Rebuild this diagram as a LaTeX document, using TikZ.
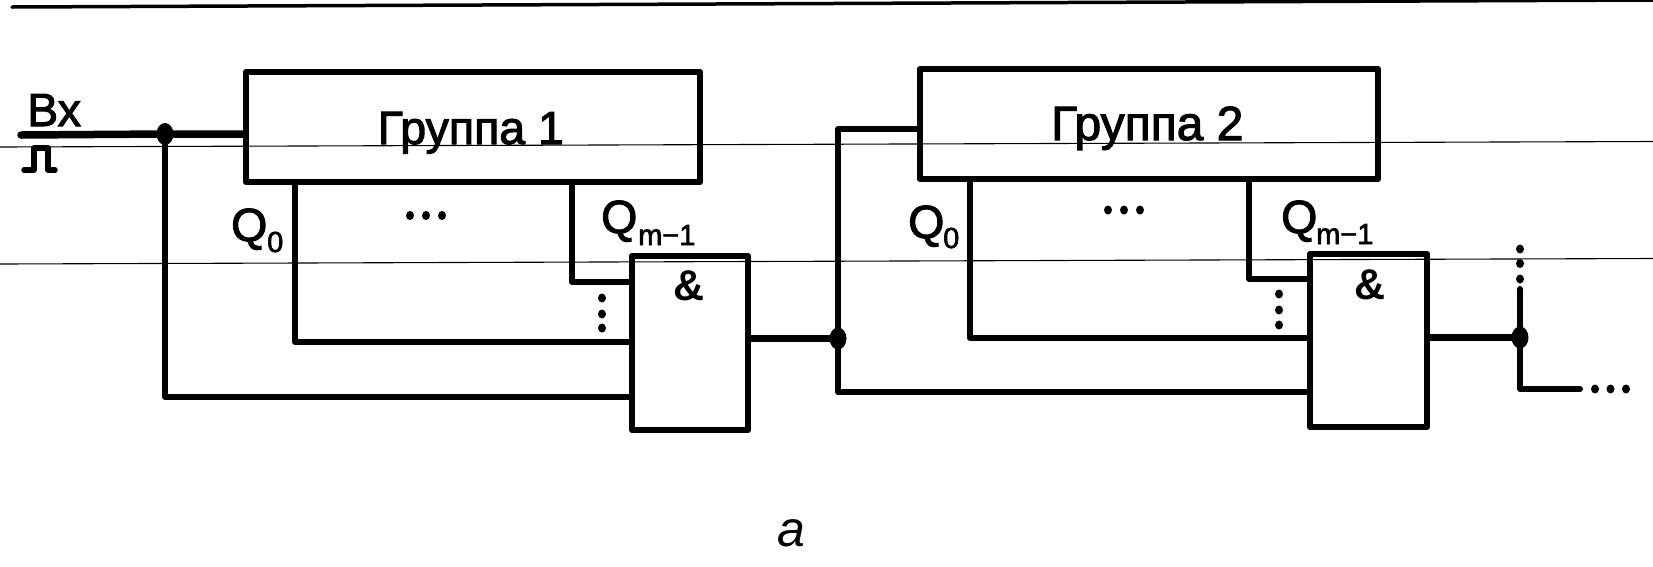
\documentclass[tikz,border=0pt]{standalone}
\usepackage{fontspec}
\setmainfont[FakeBold=2.2]{Liberation Sans}
\newfontfamily\ampf{Liberation Sans}
\tikzset{
  x=1pt,y=-1pt,
  wire/.style={line width=6pt,line join=round,line cap=round},
  fatw/.style={line width=7.5pt,line join=round,line cap=round},
  boxn/.style={draw,line width=6.5pt,rectangle,inner sep=0pt,line join=round},
  junc/.style={ellipse,fill=black,inner sep=0pt,minimum width=17pt,minimum height=22pt},
  vdot/.style={ellipse,fill=black,inner sep=0pt,minimum width=8pt,minimum height=9pt},
  thinl/.style={line width=1.1pt},
  txt/.style={inner sep=0pt,anchor=base west},
  tbig/.style={txt,font=\fontsize{46.5}{46.5}\selectfont},
  tsub/.style={txt,font=\fontsize{29}{29}\selectfont},
}
\usetikzlibrary{shapes.geometric}
\begin{document}
\begin{tikzpicture}
\useasboundingbox (0,0) rectangle (1653,566);
\fill[white] (0,0) rectangle (1653,566);
% boxes
\node[boxn,minimum width=454pt,minimum height=110pt] (g1) at (473,127) {};
\node[boxn,minimum width=458pt,minimum height=110pt] (g2) at (1149,124) {};
\node[boxn,minimum width=116pt,minimum height=174pt] (a1) at (690,343) {};
\node[boxn,minimum width=117pt,minimum height=173pt] (a2) at (1368.5,340.5) {};
% named points
\coordinate (inp) at (21,135);
\coordinate (bend1) at (165,397);
\coordinate (q10) at (295,342);
\coordinate (q1m) at (572,282);
\coordinate (up2) at (838,129);
\coordinate (bend2) at (838,392);
\coordinate (q20) at (970,338);
\coordinate (q2m) at (1249,279);
\coordinate (top3) at (1520,289);
\coordinate (bend3) at (1520,389);
\coordinate (end3) at (1580,389);
\node[junc] (j1) at (165,134) {};
\node[junc] (j2) at (838,338.5) {};
\node[junc] (j3) at (1520,337.5) {};
% connectors
\draw[fatw] (inp) -- (j1) -- (j1 -| g1.west);
\draw[wire] (j1) -- (bend1) -- (bend1 -| a1.west);
\draw[wire] (g1.south -| q10) -- (q10) -- (q10 -| a1.west);
\draw[wire] (g1.south -| q1m) -- (q1m) -- (q1m -| a1.west);
\draw[fatw] (j2 -| a1.east) -- (j2);
\draw[wire] (j2) -- (up2) -- (up2 -| g2.west);
\draw[wire] (j2) -- (bend2) -- (bend2 -| a2.west);
\draw[wire] (g2.south -| q20) -- (q20) -- (q20 -| a2.west);
\draw[wire] (g2.south -| q2m) -- (q2m) -- (q2m -| a2.west);
\draw[fatw] (j3 -| a2.east) -- (j3);
\draw[wire] (top3) -- (j3) -- (bend3) -- (end3);
% dots
\foreach \n/\x/\y in {d1/410/215.5,d2/426/215.5,d3/442/215.5,
  d4/602/298,d5/602/314,d6/602/328,
  d7/1108/210,d8/1124/210,d9/1140/210,
  d10/1279/294,d11/1279/310,d12/1279/325,
  d13/1520/249,d14/1520/263.5,d15/1520/279,
  d16/1595/389,d17/1610.5/389,d18/1626/389}
  \node[vdot] (\n) at (\x,\y) {};
% pulse symbol
\coordinate (pa) at (24,170);
\coordinate (pb) at (34,148);
\coordinate (pc) at (48,170);
\coordinate (pd) at (55,170);
\draw[line width=5.5pt,line join=round,line cap=round] (pa) -| (pb) -| (pc) -- (pd);
% texts
\node[tbig] (tbx) at (27,126) {Вх};
\node[tbig] (t1) at (377.5,144) {Группа 1};
\node[tbig,font=\fontsize{48}{48}\selectfont] (t2) at (1051,140) {Группа 2};
\node[tbig] (qa) at (231,241) {Q};
\node[tsub] (qas) at (267,252) {0};
\node[tbig] (qb) at (601,233) {Q};
\node[tsub] (qbs) at (638,245) {m−1};
\node[tbig] (qc) at (908,238) {Q};
\node[tsub] (qcs) at (943,248) {0};
\node[tbig] (qd) at (1281,233) {Q};
\node[tsub] (qds) at (1316,244) {m−1};
\node[tbig,font=\fontsize{43}{43}\selectfont\ampf\bfseries] (am1) at (673,300) {\&};
\node[tbig,font=\fontsize{43}{43}\selectfont\ampf\bfseries] (am2) at (1354,299) {\&};
\node[txt,font=\fontsize{50}{50}\selectfont\ampf\itshape] (cap) at (777,546) {a};
% scan lines
\coordinate (tl) at (12,7);
\coordinate (tr) at (1653,0);
\draw[line width=3.5pt,line cap=round] (tl) -- (tr);
\coordinate (s1l) at (0,147);
\coordinate (s1r) at (1653,141.5);
\coordinate (s2l) at (0,264);
\coordinate (s2r) at (1653,258.5);
\draw[thinl] (s1l) -- (s1r);
\draw[thinl] (s2l) -- (s2r);
\end{tikzpicture}
\end{document}
